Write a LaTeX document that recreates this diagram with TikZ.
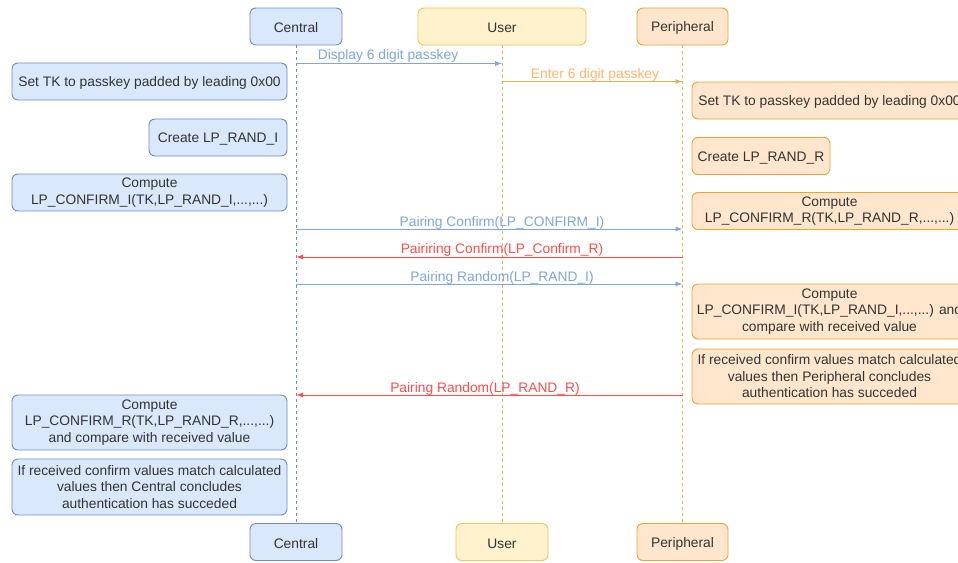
\documentclass[tikz,border=0pt]{standalone}
\usepackage{fontspec}
\setmainfont{Liberation Sans}
\usetikzlibrary{arrows.meta}

\definecolor{cfill}{HTML}{DAE8FC}
\definecolor{cline}{HTML}{6C8EBF}
\definecolor{ufill}{HTML}{FFF2CC}
\definecolor{uline}{HTML}{F2C45A}
\definecolor{pfill}{HTML}{FFE6CC}
\definecolor{pline}{HTML}{EEA335}
\definecolor{msgblue}{HTML}{7EA6E0}
\definecolor{msgred}{HTML}{FF4D4D}
\definecolor{msgorange}{HTML}{FFB570}
\definecolor{orline}{HTML}{E8B050}
\definecolor{txt}{HTML}{333333}

\begin{document}
\begin{tikzpicture}[x=1pt,y=-1pt,
  font=\fontsize{13.8}{16.5}\selectfont,
  box/.style={draw, rounded corners=6pt, line width=0.9pt, inner xsep=2pt,
    inner ysep=0pt, text=txt, align=center, minimum height=37pt,
    execute at begin node={\rule{0pt}{13pt}}},
  cbox/.style={box, draw=cline, fill=cfill},
  ubox/.style={box, draw=uline, fill=ufill},
  pbox/.style={box, draw=pline, fill=pfill},
  life/.style={dash pattern=on 3pt off 3pt, line width=0.8pt},
  msg/.style={-{Latex[length=7pt,width=5pt]}, line width=0.9pt},
  lbl/.style={inner sep=0pt}]

\clip (0,0) rectangle (958,562);
\fill[white] (0,0) rectangle (958,562);

% participants, top and bottom
\node[cbox, minimum width=92pt]  (cTop) at (296,26.5)   {Central};
\node[ubox, minimum width=168pt] (uTop) at (502,26.5)   {User};
\node[pbox, minimum width=91pt]  (pTop) at (682.5,26.5) {Peripheral};
\node[cbox, minimum width=92pt]  (cBot) at (296,542)    {Central};
\node[ubox, minimum width=92pt]  (uBot) at (502,542)    {User};
\node[pbox, minimum width=91pt]  (pBot) at (682.5,542)  {Peripheral};

% lifelines
\draw[life, cline]  (cTop.south) -- (cBot.north);
\draw[life, orline] (uTop.south) -- (uBot.north);
\draw[life, orline] (pTop.south) -- (pBot.north);

% central-side steps
\node[cbox, minimum width=275pt] (l1) at (149.5,81.5) {Set TK to passkey padded by leading 0x00};
\node[cbox, minimum width=138pt] (l2) at (218,137.5) {Create LP\_RAND\_I};
\node[cbox, minimum width=275pt] (l3) at (149.5,192.5)
  {Compute\\LP\_CONFIRM\_I(TK,LP\_RAND\_I,...,...)};
\node[cbox, minimum width=275pt, minimum height=55pt] (l4) at (149.5,422.5)
  {Compute\\LP\_CONFIRM\_R(TK,LP\_RAND\_R,...,...)\\and compare with received value};
\node[cbox, minimum width=275pt, minimum height=56pt] (l5) at (149.5,487)
  {If received confirm values match calculated\\values then Central concludes\\authentication has succeded};

% peripheral-side steps
\node[pbox, minimum width=275pt] (r1) at (829.5,100.5) {Set TK to passkey padded by leading 0x00};
\node[pbox, minimum width=138pt] (r2) at (761,156) {Create LP\_RAND\_R};
\node[pbox, minimum width=275pt] (r3) at (829.5,211)
  {Compute\\LP\_CONFIRM\_R(TK,LP\_RAND\_R,...,...)};
\node[pbox, minimum width=275pt, minimum height=55pt] (r4) at (829.5,311.5)
  {Compute\\LP\_CONFIRM\_I(TK,LP\_RAND\_I,...,...) and\\compare with received value};
\node[pbox, minimum width=275pt, minimum height=55pt] (r5) at (829.5,376.5)
  {If received confirm values match calculated\\values then Peripheral concludes\\authentication has succeded};

% messages
\draw[msg, msgblue]   (cTop.south |- 0,63.5) -- (uTop.south |- 0,63.5);
\node[lbl, text=msgblue] (t1) at (388,55.5) {Display 6 digit passkey};

\draw[msg, orline]    (uTop.south |- 0,81.5) -- (pTop.south |- 0,81.5);
\node[lbl, text=msgorange] (t2) at (595,74.5) {Enter 6 digit passkey};

\draw[msg, msgblue]   (cTop.south |- 0,229) -- (pTop.south |- 0,229);
\node[lbl, text=msgblue] (t3) at (502,222.5) {Pairing Confirm(LP\_CONFIRM\_I)};

\draw[msg, msgred]    (pTop.south |- 0,257) -- (cTop.south |- 0,257);
\node[lbl, text=msgred] (t4) at (502,249.5) {Pairiring Confirm(LP\_Confirm\_R)};

\draw[msg, msgblue]   (cTop.south |- 0,284) -- (pTop.south |- 0,284);
\node[lbl, text=msgblue] (t5) at (502,277.5) {Pairing Random(LP\_RAND\_I)};

\draw[msg, msgred]    (pTop.south |- 0,395) -- (cTop.south |- 0,395);
\node[lbl, text=msgred] (t6) at (485,388.5) {Pairing Random(LP\_RAND\_R)};

\end{tikzpicture}
\end{document}
